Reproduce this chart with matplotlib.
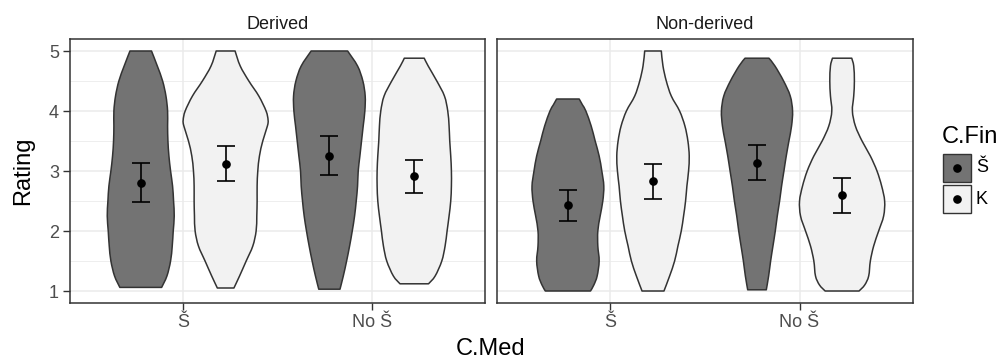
import matplotlib
matplotlib.use("Agg")
import matplotlib.pyplot as plt
from matplotlib.patches import Rectangle, PathPatch
from matplotlib.path import Path
from matplotlib.lines import Line2D

plt.rcParams['font.family'] = ['Liberation Sans', 'DejaVu Sans']

# ---------------- data ----------------
facets = ["Derived", "Non-derived"]
med_levels = ["Š", "No Š"]
fin_levels = ["Š", "K"]
fin_colors = ["#737373", "#f2f2f2"]

# violin outlines: rating levels and relative density (half-width)
# Derived
d_s_s_y = [1.06, 1.25, 1.5, 1.75, 2.0, 2.25, 2.5, 2.75, 3.0, 3.25, 3.5, 3.75, 4.0, 4.25, 4.5, 4.75, 5.0]
d_s_s_w = [63, 79, 90, 95, 98, 101, 99, 96, 90, 85, 82, 81, 81, 76, 66, 50, 32.5]
d_s_k_y = [1.05, 1.25, 1.5, 1.75, 2.0, 2.25, 2.5, 2.75, 3.0, 3.25, 3.5, 3.75, 3.85, 4.0, 4.25, 4.5, 4.75, 5.0]
d_s_k_w = [25, 42, 62, 82, 92, 94, 95, 95, 97, 102, 112, 126, 128, 122, 100, 70, 44, 28.5]
d_n_s_y = [1.03, 1.25, 1.5, 1.75, 2.0, 2.25, 2.5, 2.75, 3.0, 3.25, 3.5, 3.75, 4.0, 4.25, 4.5, 4.75, 5.0]
d_n_s_w = [32, 42, 52, 61, 69, 76, 81, 85, 87, 92, 97, 102, 107, 108, 101, 85, 55]
d_n_k_y = [1.12, 1.25, 1.5, 1.75, 2.0, 2.25, 2.5, 2.75, 3.0, 3.25, 3.5, 3.75, 4.0, 4.25, 4.5, 4.75, 4.88]
d_n_k_w = [43, 63, 83, 93, 99, 105, 110, 112, 112, 110, 107, 105, 101, 91, 68, 42, 30]
# Non-derived
n_s_s_y = [1.0, 1.1, 1.25, 1.5, 1.75, 2.0, 2.25, 2.5, 2.75, 3.0, 3.25, 3.5, 3.75, 4.0, 4.1, 4.2]
n_s_s_w = [68, 78, 88, 94, 90, 90, 97, 105, 108, 102, 94, 82, 70, 54, 44, 34]
n_s_k_y = [1.0, 1.25, 1.5, 1.75, 2.0, 2.25, 2.5, 2.75, 3.0, 3.25, 3.5, 3.75, 4.0, 4.25, 4.5, 4.75, 5.0]
n_s_k_w = [33, 50, 65, 75, 85, 92, 98, 102, 107, 109, 105, 96, 80, 55, 40, 30, 25]
n_n_s_y = [1.02, 1.25, 1.5, 1.75, 2.0, 2.25, 2.5, 2.75, 3.0, 3.25, 3.5, 3.75, 4.0, 4.25, 4.5, 4.75, 4.88]
n_n_s_w = [28, 35, 41, 48, 55, 61, 68, 74, 81, 88, 96, 104, 107, 100, 80, 54, 36]
n_n_k_y = [1.0, 1.1, 1.25, 1.5, 1.75, 2.0, 2.25, 2.5, 2.75, 3.0, 3.25, 3.5, 3.75, 4.0, 4.25, 4.5, 4.75, 4.88]
n_n_k_w = [51, 68, 80, 85, 95, 110, 125, 128, 119, 105, 85, 60, 40, 31, 35, 37, 35, 29]

violin_y = [[[d_s_s_y, d_s_k_y], [d_n_s_y, d_n_k_y]],
            [[n_s_s_y, n_s_k_y], [n_n_s_y, n_n_k_y]]]
violin_w = [[[d_s_s_w, d_s_k_w], [d_n_s_w, d_n_k_w]],
            [[n_s_s_w, n_s_k_w], [n_n_s_w, n_n_k_w]]]

# means and error-bar limits  [facet][med][fin]
means = [[[2.806, 3.122], [3.256, 2.911]],
         [[2.428, 2.828], [3.133, 2.594]]]
lows = [[[2.483, 2.833], [2.939, 2.633]],
        [[2.167, 2.533], [2.844, 2.300]]]
highs = [[[3.133, 3.411], [3.578, 3.189]],
         [[2.689, 3.117], [3.428, 2.883]]]

y_ticks = [1, 2, 3, 4, 5]

# ---------------- plot ----------------
W, H = 1003, 360
fig = plt.figure(figsize=(W / 100, H / 100), dpi=100)

def fx(px):
    return px / W

def fy(py):
    return 1 - py / H

def smooth_side(pts):
    """Catmull-Rom -> cubic Bezier path pieces through the given points."""
    verts, codes = [], []
    n = len(pts)
    for i in range(n - 1):
        p0 = pts[max(i - 1, 0)]
        p1 = pts[i]
        p2 = pts[i + 1]
        p3 = pts[min(i + 2, n - 1)]
        c1 = (p1[0] + (p2[0] - p0[0]) / 6, p1[1] + (p2[1] - p0[1]) / 6)
        c2 = (p2[0] - (p3[0] - p1[0]) / 6, p2[1] - (p3[1] - p1[1]) / 6)
        verts += [c1, c2, p2]
        codes += [Path.CURVE4] * 3
    return verts, codes

def violin_path(c, ys, hws):
    left = [(c - w, y) for w, y in zip(hws, ys)]
    right = [(c + w, y) for w, y in zip(hws[::-1], ys[::-1])]
    verts = [left[0]]
    codes = [Path.MOVETO]
    v, cd = smooth_side(left)
    verts += v; codes += cd
    verts.append(right[0]); codes.append(Path.LINETO)
    v, cd = smooth_side(right)
    verts += v; codes += cd
    verts.append(left[0]); codes.append(Path.CLOSEPOLY)
    return Path(verts, codes)

panel_top, panel_bot = 39, 303
panels = [(70, 485), (497, 913)]
dodge = 0.45
maxw = max(max(w) for f in violin_w for m in f for w in m)
outline = "#333333"
grid_c = "#ebebeb"
tick_c = "#4d4d4d"

axes = []
for fi, (l, r) in enumerate(panels):
    ax = fig.add_axes([fx(l), fy(panel_bot), fx(r - l), (panel_bot - panel_top) / H])
    axes.append(ax)
    ax.set_xlim(0.4, 2.6)
    ax.set_ylim(0.8, 5.2)
    ax.set_facecolor("white")
    for yy in [1.5, 2.5, 3.5, 4.5]:
        ax.axhline(yy, color=grid_c, lw=0.6, zorder=0)
    for yy in y_ticks:
        ax.axhline(yy, color=grid_c, lw=1.1, zorder=0)
    for xx in [1, 2]:
        ax.axvline(xx, color=grid_c, lw=1.1, zorder=0)

    for mi in range(len(med_levels)):
        for ji in range(len(fin_levels)):
            c = (mi + 1) + (ji - 0.5) * dodge
            ys = violin_y[fi][mi][ji]
            ws = [w / maxw * dodge / 2 for w in violin_w[fi][mi][ji]]
            patch = PathPatch(violin_path(c, ys, ws), facecolor=fin_colors[ji],
                              edgecolor=outline, lw=1.1, zorder=2, joinstyle='round')
            ax.add_patch(patch)
            m = means[fi][mi][ji]
            ax.errorbar([c], [m],
                        yerr=[[m - lows[fi][mi][ji]], [highs[fi][mi][ji] - m]],
                        fmt='o', color='black', ms=5.2, capsize=6.8, elinewidth=1.2,
                        capthick=1.2, zorder=3)

    ax.set_xticks([1, 2])
    ax.set_xticklabels(med_levels)
    ax.set_yticks(y_ticks)
    ax.tick_params(axis='both', colors="#333333", labelcolor=tick_c, labelsize=13,
                   length=5, width=1.0, pad=3)
    for s in ax.spines.values():
        s.set_color("#333333")
        s.set_linewidth(1.1)
    ax.set_title(facets[fi], fontsize=13, color="#1a1a1a", pad=7)
    if fi == 1:
        ax.set_yticklabels([])
        ax.tick_params(axis='y', length=0)

fig.text(fx(23), fy(171), "Rating", fontsize=17, rotation=90, ha='center', va='center')
fig.text(fx(491), fy(349), "C.Med", fontsize=17, ha='center', va='center')

# legend
fig.text(fx(942), fy(137), "C.Fin", fontsize=17, ha='left', va='center')
key_top = [154, 185]
for ji, lab in enumerate(fin_levels):
    t = key_top[ji]
    fig.patches.append(Rectangle((fx(943), fy(t + 28)), fx(28), 28 / H,
                                 facecolor=fin_colors[ji], edgecolor=outline, lw=1.0,
                                 transform=fig.transFigure, figure=fig))
    fig.lines.append(Line2D([fx(957)], [fy(t + 14)], marker='o', color='black', ms=5.2,
                            transform=fig.transFigure, figure=fig))
    fig.text(fx(976), fy(t + 14), lab, fontsize=13, ha='left', va='center')

fig.savefig("out.png", dpi=100)
